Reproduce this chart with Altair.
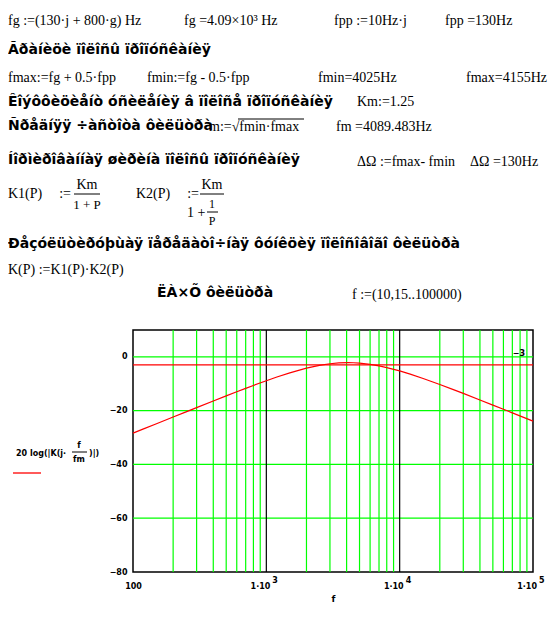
import altair as alt
import pandas as pd

# ---- data ----
freq = [100, 120, 150, 200, 250, 300, 400, 500, 600, 700, 800, 1000, 1200, 1500,
        2000, 2500, 3000, 3500, 4089, 4500, 5000, 6000, 7000, 8000, 10000, 12000,
        15000, 20000, 25000, 30000, 40000, 50000, 60000, 70000, 85000, 100000]
gain_db = [-28.36, -26.78, -24.85, -22.36, -20.43, -18.86, -16.40, -14.50, -12.98,
           -11.71, -10.62, -8.86, -7.49, -5.93, -4.20, -3.16, -2.56, -2.25, -2.14,
           -2.18, -2.32, -2.77, -3.34, -3.97, -5.23, -6.43, -8.04, -10.27, -12.08,
           -13.59, -16.02, -17.93, -19.49, -20.82, -22.50, -23.90]
marker_db = [-3]
x_ticks = [100, 1000, 10000, 100000]
x_mantissa = ["1·10", "1·10", "1·10"]
x_exponents = ["3", "4", "5"]
y_ticks = [0, -20, -40, -60, -80]
minor_grid = [200, 300, 400, 500, 600, 700, 800, 900,
              2000, 3000, 4000, 5000, 6000, 7000, 8000, 9000,
              20000, 30000, 40000, 50000, 60000, 70000, 80000, 90000]
decade_grid = [1000, 10000]
h_grid = [0, -20, -40, -60]

curve = pd.DataFrame({"f": freq, "db": gain_db})
pow_labels = pd.DataFrame({"f": x_ticks[1:], "m": x_mantissa, "e": x_exponents})

OX, OY = 133, 330  # page position of plot origin
W, H = 400, 242
GREEN = "#00ff00"

xscale = alt.Scale(type="log", domain=[100, 100000], nice=False)
yscale = alt.Scale(domain=[-80, 10], nice=False, zero=False)

x_axis = alt.Axis(
    values=x_ticks,
    labelExpr="datum.value == 100 ? '100' : ''",
    labelFont="DejaVu Sans", labelFontWeight="bold", labelFontSize=8, labelColor="black",
    ticks=False, domain=False, grid=False, labelFlush=False, labelOverlap=False,
    labelPadding=10, title="f", titleFont="DejaVu Sans", titleFontWeight="bold",
    titleFontSize=9, titleColor="black", titlePadding=4)
y_axis = alt.Axis(
    values=y_ticks, labelFont="DejaVu Sans", labelFontWeight="bold", labelFontSize=8,
    labelColor="black", ticks=False, domain=False, grid=False, labelPadding=6,
    title=None)

grid_minor = alt.Chart(pd.DataFrame({"f": minor_grid})).mark_rule(
    color=GREEN, strokeWidth=1.2).encode(x=alt.X("f:Q", scale=xscale, axis=x_axis))
grid_dec = alt.Chart(pd.DataFrame({"f": decade_grid})).mark_rule(
    color="black", strokeWidth=1.2).encode(x=alt.X("f:Q", scale=xscale))
grid_h = alt.Chart(pd.DataFrame({"db": h_grid})).mark_rule(
    color=GREEN, strokeWidth=1.2).encode(y=alt.Y("db:Q", scale=yscale, axis=y_axis))
marker = alt.Chart(pd.DataFrame({"db": marker_db})).mark_rule(
    color="#ff0000", strokeWidth=1.2).encode(y=alt.Y("db:Q", scale=yscale))
line = alt.Chart(curve).mark_line(color="#ff0000", strokeWidth=1.2).encode(
    x=alt.X("f:Q", scale=xscale, axis=x_axis),
    y=alt.Y("db:Q", scale=yscale, axis=y_axis))

mant = alt.Chart(pow_labels).mark_text(
    align="right", baseline="middle", dx=4, font="DejaVu Sans", fontWeight="bold",
    fontSize=8, color="black").encode(
    x=alt.X("f:Q", scale=xscale), y=alt.value(H + 15), text="m:N")
expo = alt.Chart(pow_labels).mark_text(
    align="left", baseline="middle", dx=6, font="DejaVu Sans", fontWeight="bold",
    fontSize=8, color="black").encode(
    x=alt.X("f:Q", scale=xscale), y=alt.value(H + 9), text="e:N")

SERIF = "Liberation Serif"
SANS = "DejaVu Sans"


def txt(s, px, py, size=14, font=SERIF, weight="normal", align="left", color="black"):
    return alt.Chart(alt.Data(values=[{}])).mark_text(
        text=s, align=align, baseline="middle", font=font, fontSize=size,
        fontWeight=weight, color=color).encode(
        x=alt.value(px - OX), y=alt.value(py - OY))


def head(s, px, py):
    return txt(s, px, py, size=14, font=SANS, weight="bold")


def seg(px1, px2, py, color="black", w=1):
    return alt.Chart(alt.Data(values=[{}])).mark_rule(color=color, strokeWidth=w).encode(
        x=alt.value(px1 - OX), x2=alt.value(px2 - OX), y=alt.value(py - OY))


texts = [
    txt("fg :=(130·j + 800·g) Hz", 8, 21),
    txt("fg =4.09×10³ Hz", 184, 21),
    txt("fpp :=10Hz·j", 334, 21),
    txt("fpp =130Hz", 445, 21),
    head("Ãðàíèöè ïîëîñû ïðîïóñêàíèÿ", 8, 50),
    txt("fmax:=fg + 0.5·fpp", 8, 78),
    txt("fmin:=fg -  0.5·fpp", 147, 78),
    txt("fmin=4025Hz", 318, 78),
    txt("fmax=4155Hz", 466, 78),
    head("Êîýôôèöèåíò óñèëåíèÿ â ïîëîñå ïðîïóñêàíèÿ", 8, 102),
    txt("Km:=1.25", 357, 102),
    head("Ñðåäíÿÿ ÷àñòîòà ôèëüòðà", 8, 126),
    txt("m:=√fmin·fmax", 209, 127),
    seg(238, 304, 119),
    txt("fm =4089.483Hz", 336, 127),
    head("Íîðìèðîâàííàÿ øèðèíà ïîëîñû ïðîïóñêàíèÿ", 8, 160),
    txt("ΔΩ :=fmax-  fmin", 357, 162),
    txt("ΔΩ =130Hz", 470, 162),
    txt("K1(P)", 8, 194),
    txt(":=", 71, 194, align="right"),
    txt("Km", 87, 185, align="center"),
    seg(74, 100, 194),
    txt("1 + P", 87, 205, size=13, align="center"),
    txt("K2(P)", 136, 194),
    txt(":=", 199, 194, align="right"),
    txt("Km", 212, 185, align="center"),
    seg(200, 224, 194),
    txt("1 +", 187, 213),
    txt("1", 212, 204, size=12, align="center"),
    seg(207, 218, 212),
    txt("P", 212, 221, size=12, align="center"),
    head("Ðåçóëüòèðóþùàÿ ïåðåäàòî÷íàÿ ôóíêöèÿ ïîëîñîâîãî ôèëüòðà", 8, 244),
    txt("K(P) :=K1(P)·K2(P)", 8, 270),
    head("ËÀ×Õ ôèëüòðà", 157, 293),
    txt("f :=(10,15..100000)", 352, 295),
    # trace label at the left of the plot
    txt("20 log(|K(j·", 16, 454, size=8, font=SANS, weight="bold"),
    txt("f", 79, 446, size=8, font=SANS, weight="bold", align="center"),
    seg(72, 87, 452),
    txt("fm", 79, 460, size=8, font=SANS, weight="bold", align="center"),
    txt(")|)", 89, 454, size=8, font=SANS, weight="bold"),
    seg(13, 41, 473, color="#ff0000", w=1.3),
    txt("−3", 525, 354, size=8, font=SANS, weight="bold", align="right"),
]

chart = alt.layer(grid_minor, grid_h, grid_dec, marker, line, mant, expo, *texts).properties(
    width=W, height=H,
    autosize=alt.AutoSizeParams(type="none"),
    padding={"left": OX - 8, "top": OY - 8, "right": 557 - 16 - (OX - 8) - W,
             "bottom": 625 - 16 - (OY - 8) - H},
    background="white",
).configure_view(stroke="black", strokeWidth=1.5)

chart.save("out.html", embed_options={"renderer": "svg", "actions": False})
